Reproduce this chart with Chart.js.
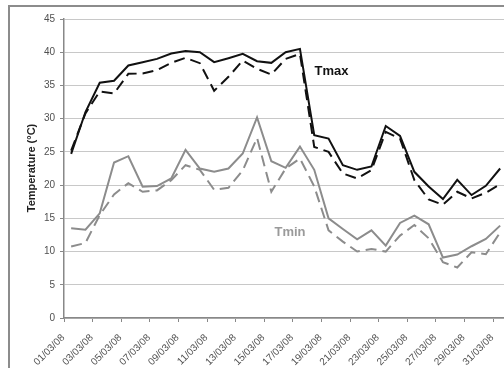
<!DOCTYPE html>
<html><head><meta charset="utf-8">
<script src="https://cdn.jsdelivr.net/npm/chart.js@4.4.1/dist/chart.umd.min.js"></script>
<style>
html,body{margin:0;padding:0;background:#fff;overflow:hidden;width:504px;height:368px}
#wrap{position:absolute;left:0;top:0;width:520px;height:380px}
</style></head><body>
<div id="wrap"><canvas id="c" width="520" height="380"></canvas></div>
<script>
const days = ['01/03/08','02/03/08','03/03/08','04/03/08','05/03/08','06/03/08','07/03/08','08/03/08','09/03/08','10/03/08',
  '11/03/08','12/03/08','13/03/08','14/03/08','15/03/08','16/03/08','17/03/08','18/03/08','19/03/08','20/03/08',
  '21/03/08','22/03/08','23/03/08','24/03/08','25/03/08','26/03/08','27/03/08','28/03/08','29/03/08','30/03/08','31/03/08'];
const tmaxSolid = [24.7,31.0,35.4,35.7,38.0,38.5,39.0,39.8,40.2,40.0,38.5,39.1,39.75,38.65,38.4,40.0,40.5,27.5,27.0,23.0,22.3,22.8,28.9,27.4,22.0,19.8,17.9,20.8,18.5,19.9,22.5];
const tmaxDashed = [25.2,30.8,34.1,33.8,36.75,36.8,37.3,38.4,39.15,38.35,34.2,36.3,38.75,37.5,36.65,39.0,39.75,25.75,25.0,21.75,21.0,22.25,28.0,27.0,20.75,17.85,17.05,19.0,18.0,18.85,20.15];
const tminSolid = [13.5,13.3,15.75,23.4,24.35,19.75,19.85,21.0,25.3,22.5,22.0,22.5,24.75,30.2,23.6,22.6,25.8,22.3,15.0,13.4,11.85,13.2,10.9,14.3,15.4,14.1,9.1,9.55,10.8,11.9,13.9];
const tminDashed = [10.75,11.3,15.5,18.6,20.3,19.0,19.2,20.75,23.0,22.3,19.3,19.6,22.2,27.1,19.0,22.5,24.0,19.8,13.2,11.5,10.0,10.4,10.0,12.4,14.0,12.0,8.4,7.6,9.9,9.6,12.9];
const yTicks = {min:0, max:45, step:5};
const yTitle = 'Temperature (°C)';
const seriesLabels = ['Tmax','Tmin'];

const FONT = "'Liberation Sans', Arial, sans-serif";

const deco = {
  id: 'deco',
  beforeDraw(chart) {
    const ctx = chart.ctx;
    ctx.save();
    ctx.fillStyle = '#fff';
    ctx.fillRect(0, 0, chart.width, chart.height);
    ctx.strokeStyle = '#8c8c8c';
    ctx.lineWidth = 2;
    ctx.strokeRect(9, 6, 700, 700);
    ctx.restore();
  },
  afterDraw(chart) {
    const ctx = chart.ctx;
    ctx.save();
    ctx.textAlign = 'center';
    ctx.textBaseline = 'middle';
    ctx.font = "bold 13px " + FONT;
    ctx.fillStyle = '#111';
    ctx.fillText(seriesLabels[0], 331.5, 71);
    ctx.fillStyle = '#9a9a9a';
    ctx.fillText(seriesLabels[1], 290, 232);
    ctx.translate(32, 168);
    ctx.rotate(-Math.PI / 2);
    ctx.font = "bold 11px " + FONT;
    ctx.fillStyle = '#222';
    ctx.fillText(yTitle, 0, 0);
    ctx.restore();
  }
};

new Chart(document.getElementById('c'), {
  type: 'line',
  data: {
    labels: days,
    datasets: [
      {label: 'Tmax', data: tmaxSolid, borderColor: '#111', borderWidth: 2, pointRadius: 0, tension: 0, fill: false},
      {label: 'Tmax dashed', data: tmaxDashed, borderColor: '#111', borderWidth: 2, borderDash: [11, 6], pointRadius: 0, tension: 0, fill: false},
      {label: 'Tmin', data: tminSolid, borderColor: '#8c8c8c', borderWidth: 2, pointRadius: 0, tension: 0, fill: false},
      {label: 'Tmin dashed', data: tminDashed, borderColor: '#8c8c8c', borderWidth: 2, borderDash: [11, 6], pointRadius: 0, tension: 0, fill: false}
    ]
  },
  options: {
    responsive: false,
    animation: false,
    devicePixelRatio: 1,
    layout: {padding: {left: 0, top: 19, right: 12.7, bottom: 0}},
    plugins: {legend: {display: false}, tooltip: {enabled: false}},
    scales: {
      x: {
        type: 'category',
        offset: true,
        grid: {
          display: true, offset: true, drawOnChartArea: false, drawTicks: true, tickLength: 4,
          color: (c) => (c.index % 2 === 0 ? '#888' : 'rgba(0,0,0,0)'), lineWidth: 1
        },
        border: {display: true, color: '#888', width: 1.5},
        ticks: {
          autoSkip: false, maxRotation: 45, minRotation: 45, color: '#505050', padding: 10, labelOffset: -8,
          font: {family: FONT, size: 10},
          callback: (v, i) => (i % 2 === 0 ? days[i] : '')
        },
        afterFit: (s) => { s.height = 62; }
      },
      y: {
        min: yTicks.min, max: yTicks.max,
        ticks: {stepSize: yTicks.step, color: '#505050', padding: 5, font: {family: FONT, size: 10}},
        grid: {color: '#c8c8c8', lineWidth: 1, tickLength: 4, tickColor: '#888', drawTicks: true},
        border: {display: true, color: '#888', width: 1.5},
        afterFit: (s) => { s.width = 64; }
      }
    }
  },
  plugins: [deco]
});
</script>
</body></html>
